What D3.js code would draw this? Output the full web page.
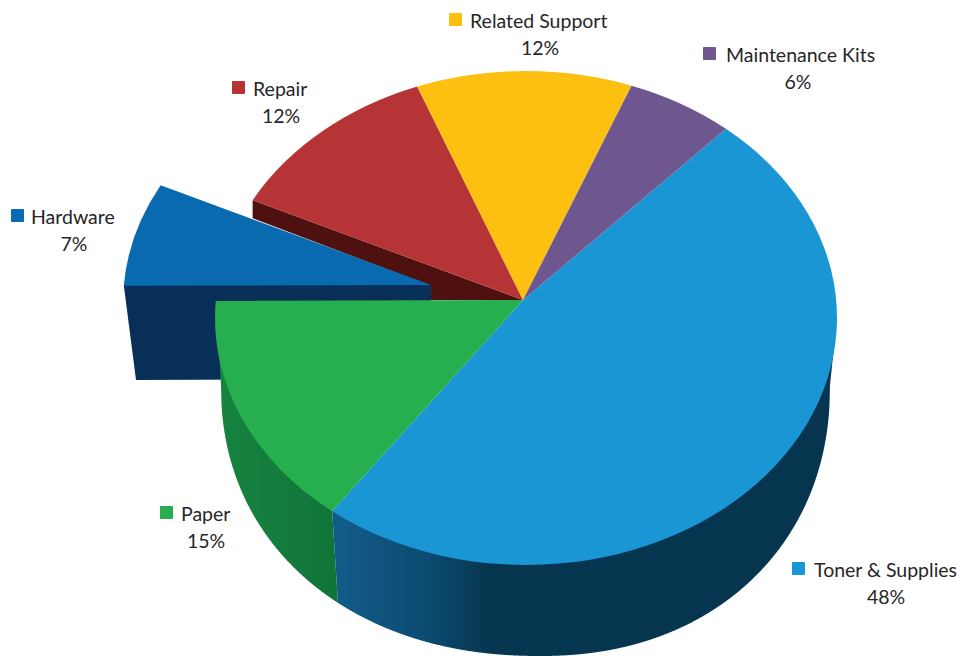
<!DOCTYPE html>
<html>
<head>
<meta charset="utf-8">
<script src="https://cdn.jsdelivr.net/npm/d3@7"></script>
<style>
  html, body { margin: 0; padding: 0; background: #fff; }
  svg { display: block; }
  text { font-family: Lato, "Open Sans", sans-serif; font-size: 19.5px; fill: #262626; }
</style>
</head>
<body>
<svg id="chart" width="961" height="656"></svg>
<script>
// chart data
const categories = ['Toner & Supplies', 'Paper', 'Hardware', 'Repair', 'Related Support', 'Maintenance Kits'];
const percentLabels = ['48%', '15%', '7%', '12%', '12%', '6%'];
// share of the circle each slice really covers in the picture (perspective shifts them off the printed %)
const drawnShares = [49.6, 15.4, 6.8, 11.4, 11.2, 5.6];

const topColors = ['#1b96d4', '#27ae4f', '#0a6ab0', '#b63436', '#fdbf10', '#6e578f'];

// swatch left, name left, percent centre, name baseline
const labelLayout = [
  { sx: 792, tx: 814, px: 886, y: 577 },
  { sx: 160, tx: 181, px: 206, y: 521 },
  { sx: 11, tx: 31, px: 74, y: 224 },
  { sx: 232, tx: 253, px: 281, y: 96 },
  { sx: 449, tx: 470, px: 540, y: 28 },
  { sx: 703, tx: 726, px: 798, y: 62 }
];

const svg = d3.select('#chart');

// top face is an ellipse, the slices meet at an off-centre apex because of the perspective
const rim = { cx: 526, cy: 318, rx: 311, ry: 247 };
const apex = [523, 300];
// lower edge of the wall, a bit squarer than an ellipse and wider on the left
const base = { cx: 540, cy: 385, left: 319, right: 290, ry: 271, n: 2.15 };
const explode = [-92, -15];
const hardwareIndex = 2, repairIndex = 3;

const rimPoint = a => [rim.cx + rim.rx * Math.sin(a), rim.cy - rim.ry * Math.cos(a)];
const baseY = x => {
  const half = x < base.cx ? base.left : base.right;
  const k = Math.min(1, Math.abs(x - base.cx) / half);
  return base.cy + base.ry * Math.pow(1 - Math.pow(k, base.n), 1 / base.n);
};

const rad = d => d * Math.PI / 180;
const pie = d3.pie().sort(null).startAngle(rad(40)).endAngle(rad(400));
const slices = pie(drawnShares);

function rimArc(a0, a1) {
  const p = rimPoint(a1);
  const large = a1 - a0 > Math.PI ? 1 : 0;
  return `A${rim.rx},${rim.ry} 0 ${large} 1 ${p[0]},${p[1]}`;
}
function slicePath(s) {
  const p = rimPoint(s.startAngle);
  return `M${apex}L${p}${rimArc(s.startAngle, s.endAngle)}Z`;
}
const lineGen = d3.line();

const defs = svg.append('defs');
const tonerGrad = defs.append('linearGradient').attr('id', 'tonerWall')
  .attr('gradientUnits', 'userSpaceOnUse').attr('x1', 338).attr('x2', 490).attr('y1', 0).attr('y2', 0);
tonerGrad.append('stop').attr('offset', 0).attr('stop-color', '#125b88');
tonerGrad.append('stop').attr('offset', 0.6).attr('stop-color', '#0c4a70');
tonerGrad.append('stop').attr('offset', 1).attr('stop-color', '#06364f');
const paperGrad = defs.append('linearGradient').attr('id', 'paperWall')
  .attr('gradientUnits', 'userSpaceOnUse').attr('x1', 221).attr('x2', 338).attr('y1', 0).attr('y2', 0);
paperGrad.append('stop').attr('offset', 0).attr('stop-color', '#16833f');
paperGrad.append('stop').attr('offset', 1).attr('stop-color', '#11743a');

const seamTop = rimPoint(slices[0].endAngle);
const seamX = 338;

// dark inner wall of Repair, seen through the gap left by the pulled out slice
const repairStart = rimPoint(slices[repairIndex].startAngle);
const hwApex = [apex[0] + explode[0], apex[1] + explode[1]];
svg.append('path')
  .attr('d', lineGen([repairStart, [repairStart[0], repairStart[1] + 18], [hwApex[0], hwApex[1] + 1], [hwApex[0], apex[1]], apex]) + 'Z')
  .attr('fill', '#4f1010');

svg.append('path')
  .attr('d', slicePath(slices[repairIndex]))
  .attr('fill', topColors[repairIndex]);

// pulled out Hardware slice: front wall then top
const hwLeft = rimPoint(slices[hardwareIndex].startAngle).map((v, i) => v + explode[i]);
svg.append('path')
  .attr('d', lineGen([[hwLeft[0], hwApex[1]], hwApex, [hwApex[0], 379], [136, 380]]) + 'Z')
  .attr('fill', '#072f57');
svg.append('path')
  .attr('d', slicePath(slices[hardwareIndex]))
  .attr('transform', `translate(${explode})`)
  .attr('fill', topColors[hardwareIndex]);

// outer walls
const paperBase = d3.range(seamX, base.cx - base.left, -0.5).map(x => [x, baseY(x)]);
const tonerBase = d3.range(seamX, base.cx + base.right, 0.5).map(x => [x, baseY(x)]);
const paperEdge = rimPoint(slices[1].endAngle);
svg.append('path')
  .attr('d', lineGen([seamTop, ...paperBase, [base.cx - base.left, base.cy], paperEdge]) + 'Z')
  .attr('fill', 'url(#paperWall)');
const tonerEdge = rimPoint(rad(90));
svg.append('path')
  .attr('d', lineGen([seamTop, ...tonerBase, [base.cx + base.right, base.cy], tonerEdge]) + 'Z')
  .attr('fill', 'url(#tonerWall)');

// remaining tops
svg.selectAll('path.top')
  .data(slices.map((s, i) => ({ s, i })).filter(d => d.i !== hardwareIndex && d.i !== repairIndex))
  .join('path')
  .attr('class', 'top')
  .attr('d', d => slicePath(d.s))
  .attr('fill', d => topColors[d.i]);

// labels
const labels = svg.selectAll('g.label')
  .data(categories)
  .join('g')
  .attr('class', 'label');
labels.append('rect')
  .attr('x', (d, i) => labelLayout[i].sx)
  .attr('y', (d, i) => labelLayout[i].y - 15)
  .attr('width', 13).attr('height', 13).attr('rx', 1)
  .attr('fill', (d, i) => topColors[i]);
labels.append('text')
  .attr('x', (d, i) => labelLayout[i].tx)
  .attr('y', (d, i) => labelLayout[i].y)
  .text(d => d);
labels.append('text')
  .attr('x', (d, i) => labelLayout[i].px)
  .attr('y', (d, i) => labelLayout[i].y + 27)
  .attr('text-anchor', 'middle')
  .text((d, i) => percentLabels[i]);
</script>
</body>
</html>
